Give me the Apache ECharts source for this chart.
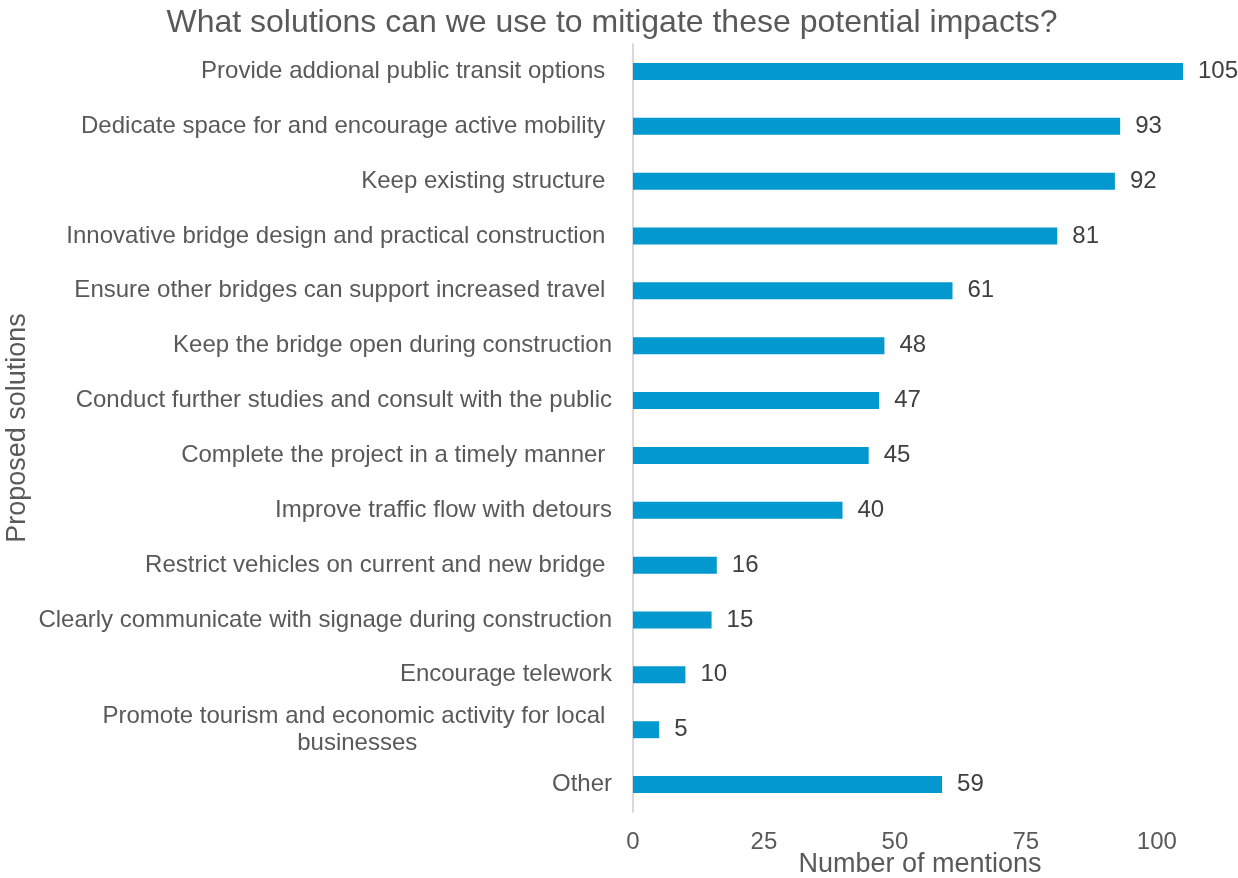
<!DOCTYPE html>
<html>
<head>
<meta charset="utf-8">
<title>Proposed solutions</title>
<script src="https://cdn.jsdelivr.net/npm/echarts@6/dist/echarts.min.js"></script>
<style>
  html, body { margin: 0; padding: 0; background: #ffffff; }
  #chart { width: 1238px; height: 878px; }
</style>
</head>
<body>
<div id="chart"></div>
<script>
// Solutions and how often each was mentioned (top to bottom)
const categories = [
  'Provide addional public transit options ',
  'Dedicate space for and encourage active mobility ',
  'Keep existing structure ',
  'Innovative bridge design and practical construction ',
  'Ensure other bridges can support increased travel ',
  'Keep the bridge open during construction',
  'Conduct further studies and consult with the public',
  'Complete the project in a timely manner ',
  'Improve traffic flow with detours',
  'Restrict vehicles on current and new bridge ',
  'Clearly communicate with signage during construction',
  'Encourage telework',
  'Promote tourism and economic activity for local \nbusinesses',
  'Other'
];
const mentions = [105, 93, 92, 81, 61, 48, 47, 45, 40, 16, 15, 10, 5, 59];
const xTicks = [0, 25, 50, 75, 100];

const FONT = '"Liberation Sans", Arial, sans-serif';
const GREY = '#595959';

const chart = echarts.init(document.getElementById('chart'), null, { renderer: 'canvas' });

// multi-line category labels: first line right-aligned, following lines centred
function catLabel(value) {
  const lines = value.split('\n');
  if (lines.length === 1) return value;
  return lines.map((l, i) => (i === 0 ? '{a|' + l + '}' : '{b|' + l + '}')).join('\n');
}

chart.setOption({
  animation: false,
  backgroundColor: '#ffffff',
  title: {
    text: 'What solutions can we use to mitigate these potential impacts?',
    left: 607,
    textAlign: 'center',
    top: 2,
    textStyle: { fontFamily: FONT, fontSize: 32, fontWeight: 'normal', color: GREY }
  },
  grid: { left: 633, right: 55, top: 44, bottom: 66, containLabel: false, outerBoundsMode: 'none' },
  xAxis: {
    type: 'value',
    min: 0,
    max: 105,
    interval: 25,
    name: 'Number of mentions',
    nameLocation: 'middle',
    nameGap: 39,
    nameMoveOverlap: false,
    nameTextStyle: { fontFamily: FONT, fontSize: 27, color: GREY, padding: [0, 0, 0, 24] },
    axisLine: { show: false },
    axisTick: { show: false },
    splitLine: { show: false },
    axisLabel: {
      fontFamily: FONT, fontSize: 24, color: GREY, margin: 18,
      showMaxLabel: false,
      formatter: v => (xTicks.indexOf(v) >= 0 ? String(v) : '')
    }
  },
  yAxis: {
    type: 'category',
    data: categories,
    inverse: true,
    name: 'Proposed solutions',
    nameLocation: 'middle',
    nameRotate: 90,
    nameGap: 602,
    nameMoveOverlap: false,
    nameTextStyle: { fontFamily: FONT, fontSize: 27, color: GREY },
    axisLine: { show: true, lineStyle: { color: '#d9d9d9', width: 2 } },
    axisTick: { show: false },
    splitLine: { show: false },
    axisLabel: {
      fontFamily: FONT, fontSize: 24, color: GREY, margin: 21, lineHeight: 27,
      formatter: catLabel,
      rich: {
        a: { fontFamily: FONT, fontSize: 24, color: GREY, lineHeight: 27 },
        b: { fontFamily: FONT, fontSize: 24, color: GREY, lineHeight: 27, align: 'center' }
      }
    }
  },
  series: [{
    type: 'bar',
    data: mentions,
    barWidth: 17,
    itemStyle: { color: '#0399CF' },
    label: {
      show: true,
      position: 'right',
      distance: 15,
      fontFamily: FONT,
      fontSize: 24,
      color: '#404040'
    }
  }]
});
</script>
</body>
</html>
